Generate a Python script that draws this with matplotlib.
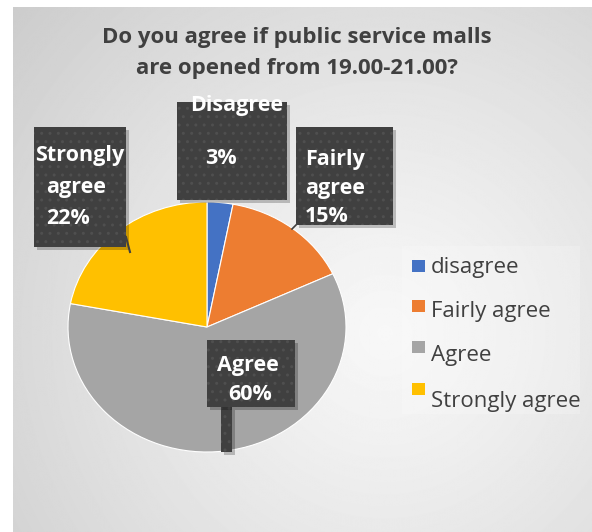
import numpy as np
import matplotlib
matplotlib.use("Agg")
import matplotlib.pyplot as plt
from matplotlib.patches import Rectangle

plt.rcParams['font.family'] = ['Open Sans', 'DejaVu Sans']

# survey answers
categories = ["disagree", "Fairly agree", "Agree", "Strongly agree"]
shares = [3, 15, 60, 22]
box_titles = ["Disagree", "Fairly\nagree", "Agree", "Strongly\nagree"]
colors = ["#4472C4", "#ED7D31", "#A5A5A5", "#FFC000"]
title = "Do you agree if public service malls\nare opened from 19.00-21.00?"

W, H = 592, 532
fig = plt.figure(figsize=(W / 100, H / 100), dpi=100)

# background panel with soft radial shading, in pixel coordinates
bg = fig.add_axes([0, 0, 1, 1], zorder=0)
bg.set_xlim(0, W)
bg.set_ylim(H, 0)
bg.axis("off")
yy, xx = np.mgrid[0:H, 0:W]
d = np.hypot((xx - 380) / 1.0, (yy - 330) / 1.0) / 478.0
shade = np.clip(0.97 - 0.16 * d ** 1.2, 0, 1)
bg.imshow(shade, cmap="gray", vmin=0, vmax=1, extent=(13, W, H, 7),
          interpolation="bilinear", aspect="auto")

# the pie itself, slightly stretched horizontally
ax = fig.add_axes([68 / W, 80 / H, 278 / W, 250 / H], zorder=1)
ax.pie(shares, colors=colors, startangle=90, counterclock=False,
       wedgeprops=dict(edgecolor="white", linewidth=0.8))
ax.set_aspect("auto")
ax.set_xlim(-1, 1)
ax.set_ylim(-1, 1)
ax.axis("off")

# overlay for title, data labels and legend
ov = fig.add_axes([0, 0, 1, 1], zorder=2)
ov.set_xlim(0, W)
ov.set_ylim(H, 0)
ov.axis("off")
ov.patch.set_alpha(0)

ov.text(297, 53, title, ha="center", va="center", fontsize=16,
        fontweight="bold", color="#404040", linespacing=1.6)


def label_box(x0, y0, x1, y1):
    ov.add_patch(Rectangle((x0 + 3, y0 + 3), x1 - x0, y1 - y0,
                           facecolor="black", alpha=0.22, linewidth=0))
    ov.add_patch(Rectangle((x0, y0), x1 - x0, y1 - y0, facecolor="#404040",
                           edgecolor="#4f4f4f", hatch="..", linewidth=0))


lab = dict(color="white", fontweight="bold", fontsize=15.5, va="center")

# Disagree
label_box(177, 102, 287, 200)
ov.text(237, 106, box_titles[0], ha="center", **lab)
ov.text(221, 159, f"{shares[0]}%", ha="center", **lab)

# Fairly agree
label_box(296, 127, 393, 225)
ov.plot([296, 292], [225, 229], color="#404040", lw=1.2)
for i, s in enumerate(box_titles[1].split("\n") + [f"{shares[1]}%"]):
    ov.text(305, 160 + 28.5 * i, s, ha="left", **lab)

# Strongly agree
label_box(34, 127, 126, 247)
ov.plot([126, 130], [237, 252], color="#404040", lw=1.5)
sa = box_titles[3].split("\n")
ov.text(80, 155, sa[0], ha="center", **lab)
ov.text(46, 187, sa[1], ha="left", **lab)
ov.text(46, 219, f"{shares[3]}%", ha="left", **lab)

# Agree, with its leader running down to the rim
label_box(221, 407, 232, 452)
label_box(207, 340, 295, 407)
ov.text(248, 365, box_titles[2], ha="center", **lab)
ov.text(250, 395, f"{shares[2]}%", ha="center", **lab)

# legend
ov.add_patch(Rectangle((402, 246), 178, 168, facecolor="white",
                       alpha=0.2, linewidth=0))
marker_y = [260, 300, 341, 383]
text_y = [267, 312, 356, 402]
for c, name, my, ty in zip(colors, categories, marker_y, text_y):
    ov.add_patch(Rectangle((412, my), 13, 12, facecolor=c, linewidth=0))
    ov.text(431, ty, name, ha="left", va="center", fontsize=16,
            color="#404040")

fig.savefig("out.png", dpi=100)
